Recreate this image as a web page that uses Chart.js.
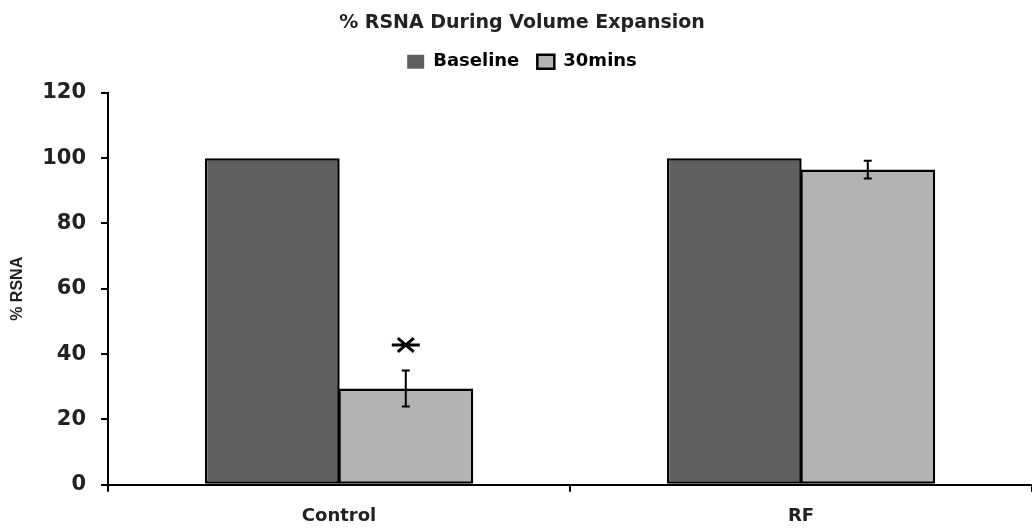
<!DOCTYPE html>
<html>
<head>
<meta charset="utf-8">
<script src="https://cdn.jsdelivr.net/npm/chart.js@4"></script>
<style>
  html, body { margin: 0; padding: 0; background: #fff; }
  #wrap { width: 1032px; height: 530px; position: relative; }
</style>
</head>
<body>
<div id="wrap"><canvas id="rsnaChart"></canvas></div>
<script>
'use strict';

// ── Data ──────────────────────────────────────────────────────────────────────
const groups         = ['Control', 'RF'];
const seriesNames    = ['Baseline', '30mins'];
const baselineValues = [100, 100];
const min30Values    = [29.5, 96.5];
const baselineErrors = [0, 0];
const min30Errors    = [5.5, 2.7];
const sigMarks       = [true, false];  // significance marker above 30mins bar
const sigLevel       = [42.5, null];   // value where the marker sits
const yTicks         = [0, 20, 40, 60, 80, 100, 120];

const fillColors = ['#5f5f5f', '#b3b3b3'];

// ── Plugins ───────────────────────────────────────────────────────────────────
// extra room between legend and plot area
const legendGap = {
  id: 'legendGap',
  beforeInit(chart) {
    const origFit = chart.legend.fit;
    chart.legend.fit = function () {
      origFit.bind(chart.legend)();
      this.height += 12;
    };
  }
};

const errorBarPlugin = {
  id: 'errorBars',
  afterDatasetsDraw(chart) {
    const ctx = chart.ctx;
    const y = chart.scales.y;
    const errs = [baselineErrors, min30Errors];
    ctx.save();
    ctx.strokeStyle = '#000';
    ctx.lineWidth = 2;
    chart.data.datasets.forEach((ds, di) => {
      const meta = chart.getDatasetMeta(di);
      meta.data.forEach((bar, i) => {
        const e = errs[di][i];
        if (!e) return;
        const v = ds.data[i];
        const yTop = y.getPixelForValue(v + e);
        const yBot = y.getPixelForValue(v - e);
        ctx.beginPath();
        ctx.moveTo(bar.x, yTop); ctx.lineTo(bar.x, yBot);
        ctx.moveTo(bar.x - 4, yTop); ctx.lineTo(bar.x + 4, yTop);
        ctx.moveTo(bar.x - 4, yBot); ctx.lineTo(bar.x + 4, yBot);
        ctx.stroke();
      });
    });
    // asterisk (six arms, horizontal bar) above significant bars
    const meta30 = chart.getDatasetMeta(1);
    ctx.lineWidth = 3;
    sigMarks.forEach((m, i) => {
      if (!m) return;
      const cx = meta30.data[i].x;
      const cy = y.getPixelForValue(sigLevel[i]) - 1;
      ctx.beginPath();
      for (let k = 0; k < 3; k++) {
        const a = k * Math.PI / 3;
        const rx = k === 0 ? 14 : 16;
        const ry = 8;
        ctx.moveTo(cx - Math.cos(a) * rx, cy - Math.sin(a) * ry);
        ctx.lineTo(cx + Math.cos(a) * rx, cy + Math.sin(a) * ry);
      }
      ctx.stroke();
    });
    ctx.restore();
  }
};

// ── Chart ─────────────────────────────────────────────────────────────────────
const ctx = document.getElementById('rsnaChart').getContext('2d');
Chart.defaults.font.family = "'DejaVu Sans', sans-serif";
Chart.defaults.color = '#222';

new Chart(ctx, {
  type: 'bar',
  data: {
    labels: groups,
    datasets: [
      {
        label: seriesNames[0],
        data: baselineValues,
        backgroundColor: fillColors[0],
        borderColor: '#000',
        borderWidth: 2.5,
        borderSkipped: false
      },
      {
        label: seriesNames[1],
        data: min30Values,
        backgroundColor: fillColors[1],
        borderColor: '#000',
        borderWidth: 2.5,
        borderSkipped: false
      }
    ]
  },
  options: {
    responsive: true,
    maintainAspectRatio: false,
    animation: false,
    layout: { padding: { left: 8, right: -4, top: 0, bottom: -10 } },
    datasets: { bar: { categoryPercentage: 0.578, barPercentage: 1.01 } },
    plugins: {
      title: {
        display: true,
        text: '% RSNA During Volume Expansion',
        color: '#222',
        font: { size: 19, weight: 'bold' },
        padding: { top: 12, bottom: 0 }
      },
      legend: {
        position: 'top',
        labels: {
          color: '#222',
          font: { size: 18, weight: 'bold' },
          boxWidth: 17,
          boxHeight: 14,
          padding: 18,
          generateLabels(chart) {
            return chart.data.datasets.map((ds, i) => ({
              text: ds.label,
              fillStyle: fillColors[i],
              strokeStyle: '#000',
              lineWidth: i === 0 ? 0 : 2.5,
              datasetIndex: i,
              hidden: false
            }));
          }
        }
      },
      tooltip: { enabled: false }
    },
    scales: {
      x: {
        offset: true,
        grid: {
          display: true,
          offset: true,
          drawOnChartArea: false,
          drawTicks: true,
          tickLength: 7,
          color: '#000',
          lineWidth: 2
        },
        border: { display: true, color: '#000', width: 2 },
        ticks: {
          color: '#222',
          padding: 16,
          font: { size: 18, weight: 'bold', lineHeight: 0.9 }
        }
      },
      y: {
        min: 0,
        max: 120,
        afterBuildTicks(axis) {
          axis.ticks = yTicks.map(v => ({ value: v }));
        },
        grid: {
          display: true,
          drawOnChartArea: false,
          drawTicks: true,
          tickLength: 7,
          color: '#000',
          lineWidth: 2
        },
        border: { display: true, color: '#000', width: 2 },
        ticks: {
          color: '#222',
          padding: 15,
          font: { size: 21, weight: 'bold' }
        },
        title: {
          display: true,
          text: '% RSNA',
          color: '#222',
          padding: { top: 0, bottom: 0 },
          font: { size: 16, weight: 'bold', family: "'Liberation Sans Narrow', 'Liberation Sans', sans-serif" }
        }
      }
    }
  },
  plugins: [legendGap, errorBarPlugin]
});
</script>
</body>
</html>
